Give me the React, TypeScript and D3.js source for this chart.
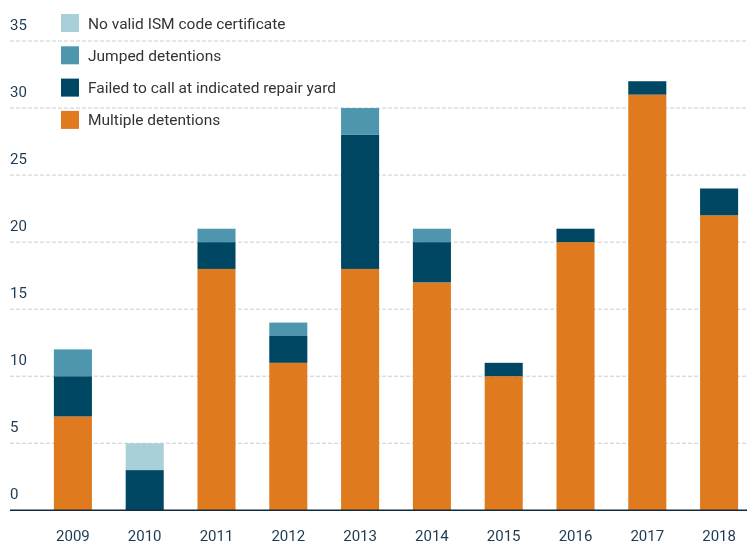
import React, { useEffect, useRef } from "react";
import * as d3 from "d3";

// chart data
const years = ["2009", "2010", "2011", "2012", "2013", "2014", "2015", "2016", "2017", "2018"];
const multiple = [7, 0, 18, 11, 18, 17, 10, 20, 31, 22];
const failedYard = [3, 3, 2, 2, 10, 3, 1, 1, 1, 2];
const jumped = [2, 0, 1, 1, 2, 1, 0, 0, 0, 0];
const noValidIsm = [0, 2, 0, 0, 0, 0, 0, 0, 0, 0];
const yTicks = [0, 5, 10, 15, 20, 25, 30, 35];

const seriesNames = ["Multiple detentions", "Failed to call at indicated repair yard", "Jumped detentions", "No valid ISM code certificate"];
const seriesColors = ["#e07a1f", "#004763", "#4e96ad", "#a9cfd9"];

const App = () => {
  const ref = useRef<SVGSVGElement>(null);

  useEffect(() => {
    const width = 747;
    const height = 546;
    const svg = d3.select(ref.current).attr("width", width).attr("height", height);
    svg.selectAll("*").remove();

    const font = "Roboto, 'DejaVu Sans', sans-serif";

    const rows = years.map((y, i) => ({
      year: y,
      s0: multiple[i],
      s1: failedYard[i],
      s2: jumped[i],
      s3: noValidIsm[i],
    }));
    const stacked = d3.stack<any>().keys(["s0", "s1", "s2", "s3"])(rows);

    const x = d3.scaleBand().domain(years).range([37, 755]).paddingInner(0.47).paddingOuter(0.235);
    const y = d3.scaleLinear().domain([0, 35]).range([510.3, 41]);

    // gridlines
    svg.append("g")
      .selectAll("line")
      .data(yTicks.filter((t) => t > 0))
      .join("line")
      .attr("x1", 10)
      .attr("x2", width)
      .attr("y1", (d) => y(d))
      .attr("y2", (d) => y(d))
      .attr("stroke", "#c8ccd2")
      .attr("stroke-width", 1)
      .attr("stroke-dasharray", "4,2");

    // y labels
    svg.append("g")
      .selectAll("text")
      .data(yTicks)
      .join("text")
      .attr("x", 10)
      .attr("y", (d) => y(d) - 11)
      .attr("font-family", font)
      .attr("font-size", 15)
      .attr("fill", "#1d3a52")
      .text((d) => d);

    // bars
    svg.append("g")
      .selectAll("g")
      .data(stacked)
      .join("g")
      .attr("fill", (d, i) => seriesColors[i])
      .selectAll("rect")
      .data((d) => d)
      .join("rect")
      .attr("x", (d: any) => x(d.data.year)!)
      .attr("y", (d) => y(d[1]))
      .attr("height", (d) => y(d[0]) - y(d[1]))
      .attr("width", x.bandwidth());

    // baseline
    svg.append("line")
      .attr("x1", 10)
      .attr("x2", width)
      .attr("y1", y(0))
      .attr("y2", y(0))
      .attr("stroke", "#0f2a3d")
      .attr("stroke-width", 1.5);

    // x labels
    svg.append("g")
      .selectAll("text")
      .data(years)
      .join("text")
      .attr("x", (d) => x(d)! + x.bandwidth() / 2)
      .attr("y", 541)
      .attr("text-anchor", "middle")
      .attr("font-family", font)
      .attr("font-size", 15)
      .attr("fill", "#1d3a52")
      .text((d) => d);

    // legend, top to bottom in reverse stack order
    const legendOrder = [3, 2, 1, 0];
    const leg = svg.append("g")
      .selectAll("g")
      .data(legendOrder)
      .join("g")
      .attr("transform", (d, i) => `translate(61, ${14 + i * 32.3})`);
    leg.append("rect")
      .attr("width", 18)
      .attr("height", 18)
      .attr("fill", (d) => seriesColors[d]);
    leg.append("text")
      .attr("x", 27)
      .attr("y", 14.5)
      .attr("font-family", font)
      .attr("font-size", 15.5)
      .attr("fill", "#333")
      .text((d) => seriesNames[d]);
  }, []);

  return (
    <div>
      <svg ref={ref} style={{ display: "block", position: "fixed", top: 0, left: 0 }} />
    </div>
  );
};

export default App;
